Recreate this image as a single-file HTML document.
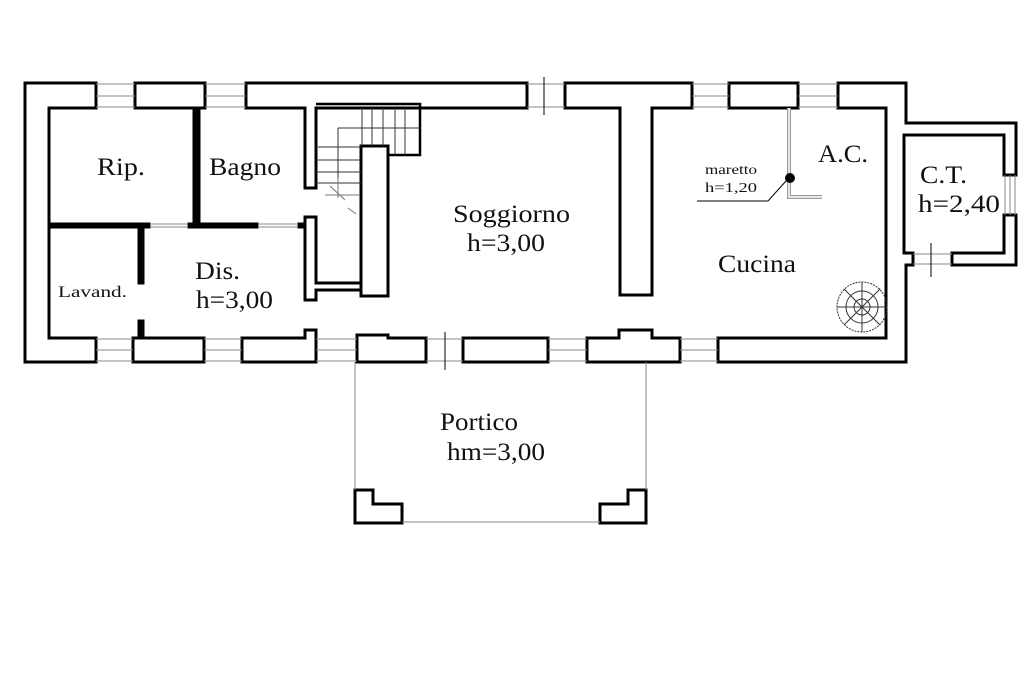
<!DOCTYPE html>
<html><head><meta charset="utf-8"><style>
html,body{margin:0;padding:0;background:#fff;}
svg{display:block;}
text{font-family:"Liberation Serif",serif;fill:#111;}
</style></head><body>
<svg width="1024" height="683" viewBox="0 0 1024 683" xmlns="http://www.w3.org/2000/svg">
<g fill="#fff" stroke="#000" stroke-width="3" stroke-linejoin="miter">
<path d="M25,83 H96 V108 H49 V338 H96 V362 H25 Z"/>
<rect x="135" y="83" width="70" height="25"/>
<path d="M246,83 H527 V108 H316 V188 H305 V108 H246 Z"/>
<path d="M565,83 H692 V108 H652 V295 H620 V108 H565 Z"/>
<rect x="729" y="83" width="69" height="25"/>
<path d="M838,83 H906 V123 H1016 V175 H1004 V135 H904 V253 H913 V265 H906 V362 H718 V338 H886 V108 H838 Z"/>
<path d="M952,253 H1004 V215 H1016 V265 H952 Z"/>
<rect x="133" y="338" width="71" height="24"/>
<path d="M242,338 H305 V330 H316 V362 H242 Z"/>
<path d="M357,335 H388 V338 H426 V362 H357 Z"/>
<rect x="463" y="338" width="85" height="24"/>
<path d="M587,338 H619 V330 H652 V338 H680 V362 H587 Z"/>
<rect x="193" y="108" width="7" height="118" fill="#000" stroke-width="1"/>
<rect x="49" y="223" width="101" height="5" fill="#000" stroke-width="1"/>
<rect x="188" y="223" width="70" height="5" fill="#000" stroke-width="1"/>
<rect x="298" y="223" width="7" height="5" fill="#000" stroke-width="1"/>
<rect x="138" y="226" width="6" height="58" fill="#000" stroke-width="1"/>
<rect x="138" y="320" width="6" height="18" fill="#000" stroke-width="1"/>
<path d="M305,217 H316 V283 H361 V290 H316 V300 H305 Z"/>
<rect x="361" y="146" width="27" height="150"/>
<path d="M355,490 H373 V504 H402 V523 H355 Z"/>
<path d="M646,490 H628 V504 H600 V523 H646 Z"/>
</g>
<g fill="none" stroke="#333" stroke-width="1">
<path d="M316,104 H420 V155 H388" stroke="#000" stroke-width="2.5"/>
<path d="M338,128 H420 M338,128 V190"/>
<path d="M362,108 V146 M372,108 V146 M383,108 V146 M395,108 V155 M405,108 V155"/>
<path d="M316,147 H361 M316,160 H361 M316,172 H361 M316,183 H361"/>
<path d="M330,186 L345,200 M338,178 V198 M325,195 H360 M348,208 L356,214" stroke="#777"/>
</g>
<g stroke="#888" stroke-width="1" fill="none">
<path d="M96,84 H135 M96,96 H135 M96,107 H135"/>
<path d="M205,84 H246 M205,96 H246 M205,107 H246"/>
<path d="M527,84 H565 M527,107 H565"/>
<path d="M692,84 H729 M692,96 H729 M692,107 H729"/>
<path d="M798,84 H838 M798,96 H838 M798,107 H838"/>
<path d="M96,339 H133 M96,350 H133 M96,361 H133"/>
<path d="M204,339 H242 M204,350 H242 M204,361 H242"/>
<path d="M316,339 H357 M316,350 H357 M316,361 H357"/>
<path d="M426,339 H463 M426,361 H463"/>
<path d="M548,339 H587 M548,350 H587 M548,361 H587"/>
<path d="M680,339 H718 M680,350 H718 M680,361 H718"/>
<path d="M1005,175 V215 M1010,175 V215 M1015,175 V215"/>
<path d="M913,254 H952 M913,264 H952"/>
<path d="M150,224 H188 M150,227 H188 M258,224 H298 M258,227 H298"/>
<path d="M355,362 V490 M646,362 V490 M402,522 H600"/>
</g>
<g stroke="#000" stroke-width="1">
<path d="M544,77 V115 M445,332 V370 M931,243 V277"/>
</g>
<path d="M789,108 V197 H822" fill="none" stroke="#999" stroke-width="4"/>
<path d="M789,108 V197 H822" fill="none" stroke="#fff" stroke-width="1.5"/>
<circle cx="790" cy="178" r="5" fill="#000"/>
<path d="M697,201 H768 L786,181" fill="none" stroke="#000" stroke-width="1"/>
<g fill="none" stroke="#333" stroke-width="1">
<circle cx="862" cy="307" r="25" stroke-dasharray="2,1"/>
<circle cx="862" cy="307" r="16"/>
<circle cx="862" cy="307" r="8"/>
<path d="M837,307 H887 M862,282 V332 M844,289 L880,325 M880,289 L844,325"/>
</g>
<g lengthAdjust="spacingAndGlyphs">
<text x="97" y="175" font-size="25" textLength="48" lengthAdjust="spacingAndGlyphs">Rip.</text>
<text x="209" y="175" font-size="25" textLength="72" lengthAdjust="spacingAndGlyphs">Bagno</text>
<text x="453" y="222" font-size="25" textLength="117" lengthAdjust="spacingAndGlyphs">Soggiorno</text>
<text x="467" y="251" font-size="25" textLength="78" lengthAdjust="spacingAndGlyphs">h=3,00</text>
<text x="195" y="279" font-size="25" textLength="45" lengthAdjust="spacingAndGlyphs">Dis.</text>
<text x="196" y="308" font-size="25" textLength="77" lengthAdjust="spacingAndGlyphs">h=3,00</text>
<text x="58" y="297" font-size="16" textLength="69" lengthAdjust="spacingAndGlyphs">Lavand.</text>
<text x="818" y="162" font-size="25" textLength="50" lengthAdjust="spacingAndGlyphs">A.C.</text>
<text x="920" y="183" font-size="25" textLength="47" lengthAdjust="spacingAndGlyphs">C.T.</text>
<text x="918" y="212" font-size="25" textLength="82" lengthAdjust="spacingAndGlyphs">h=2,40</text>
<text x="718" y="272" font-size="25" textLength="78" lengthAdjust="spacingAndGlyphs">Cucina</text>
<text x="440" y="430" font-size="25" textLength="78" lengthAdjust="spacingAndGlyphs">Portico</text>
<text x="447" y="460" font-size="25" textLength="98" lengthAdjust="spacingAndGlyphs">hm=3,00</text>
<text x="705" y="174" font-size="14" textLength="52" lengthAdjust="spacingAndGlyphs">maretto</text>
<text x="705" y="192" font-size="14" textLength="52" lengthAdjust="spacingAndGlyphs">h=1,20</text>
</g>
</svg>
</body></html>
